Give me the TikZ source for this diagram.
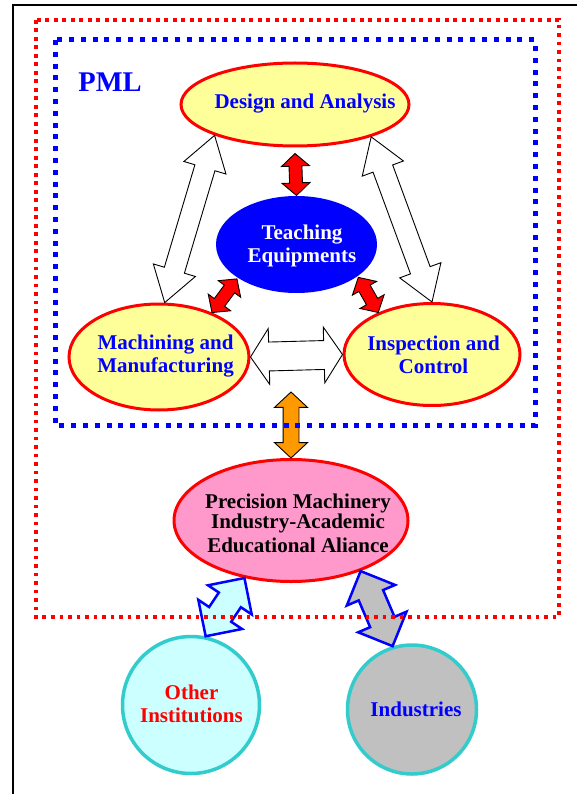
\documentclass[tikz,border=0pt]{standalone}
\usepackage{fontspec}
\setmainfont{Liberation Serif}
\usetikzlibrary{shapes.geometric,shapes.arrows,calc}
\definecolor{lyel}{HTML}{FFFF99}
\definecolor{pinkf}{HTML}{FF99CC}
\definecolor{lcyan}{HTML}{CCFFFF}
\definecolor{turq}{HTML}{33CCCC}
\definecolor{grayf}{HTML}{C0C0C0}
\definecolor{orangef}{HTML}{FF9900}
\definecolor{tblue}{HTML}{0000FF}
\tikzset{
  ell/.style={ellipse, draw=red, line width=3pt, fill=lyel, inner sep=0pt},
  circ/.style={circle, draw=turq, line width=3.5pt, inner sep=0pt},
  lbl/.style={font=\bfseries\fontsize{21}{22.5}\selectfont, align=center, inner sep=0pt, text=tblue},
  darr/.style={double arrow, draw=black, line width=0.9pt, inner xsep=0pt, anchor=center},
  redarr/.style={darr, fill=red, inner ysep=6pt, double arrow head extend=7.5pt, double arrow tip angle=96},
  whitearr/.style={darr, fill=white, inner ysep=10pt, double arrow head extend=11.5pt, double arrow tip angle=66},
  harr/.style={darr, fill=white, inner ysep=14pt, double arrow head extend=13.5pt, double arrow tip angle=113},
  orarr/.style={darr, fill=orangef, inner ysep=7.5pt, double arrow head extend=8.5pt, double arrow tip angle=94},
  botarr/.style={darr, draw=blue, line width=2.5pt, inner ysep=12pt, double arrow head extend=13pt, double arrow tip angle=90},
  reddots/.style={draw=red, line width=3.8pt, dash pattern=on 3.8pt off 4.7pt},
  bluedots/.style={draw=blue, line width=5pt, dash pattern=on 5pt off 6.8pt},
}
\newcommand\dblarr[4]{%
  \path let \p1=(#3), \p2=(#4), \n1={atan2(\y2-\y1,\x2-\x1)}, \n2={veclen(\x2-\x1,\y2-\y1)} in
    node[#2, rotate=\n1, minimum height=\n2] (#1) at ($(\p1)!0.5!(\p2)$) {};}
\begin{document}
\begin{tikzpicture}[x=1pt,y=-1pt]
\useasboundingbox (0,0) rectangle (577,794);
\fill[white] (0,0) rectangle (577,794);
\begin{scope}
\clip (0,0) rectangle (577,794);
\draw[line width=1.8pt] (13,5) rectangle (600,820);
\end{scope}

% nodes
\node[ell, minimum width=228pt, minimum height=83pt] (des) at (295,104.5) {};
\node[ell, draw=none, fill=blue, minimum width=161pt, minimum height=97pt] (te) at (296.5,244.5) {};
\node[ell, minimum width=180pt, minimum height=106pt] (mach) at (159,357) {};
\node[ell, minimum width=176pt, minimum height=102pt] (insp) at (432,354.5) {};
\node[ell, fill=pinkf, minimum width=234pt, minimum height=122pt] (prec) at (291,520.5) {};
\node[circ, fill=lcyan, minimum size=137pt] (oth) at (191,705) {};
\node[circ, fill=grayf, minimum size=129pt] (ind) at (412,709.5) {};

% labels
\node[lbl, font=\bfseries\fontsize{28.5}{30}\selectfont] (pml) at (110,82) {PML};
\node[lbl] (desT) at (305,104) {Design and Analysis};
\node[lbl, text=white] (teT) at (302,246) {Teaching\\Equipments};
\node[lbl] (machT) at (165.5,356) {Machining and\\Manufacturing};
\node[lbl] (inspT) at (433.5,355) {Inspection and\\Control};
\node[lbl, text=black, font=\bfseries\fontsize{21}{20.5}\selectfont] (precT) at (298,523) {Precision Machinery\\Industry-Academic\\[3pt]Educational Aliance};
\node[lbl, text=red] (othT) at (191.5,704) {Other\\Institutions};
\node[lbl] (indT) at (416,709) {Industries};

\coordinate (pmlb) at (291,392);

% arrows
\dblarr{a1}{redarr}{$(des.south)+(0,6)$}{$(te.north)+(0,1)$}
\dblarr{a2}{redarr}{mach.40}{te.210}
\dblarr{a3}{redarr}{te.-28}{insp.142}
\dblarr{a4}{whitearr}{des.201}{mach.84}
\dblarr{a5}{whitearr}{des.-23}{insp.90}
\dblarr{a6}{harr}{mach.east}{insp.west}
\dblarr{a7}{orarr}{pmlb}{prec.north}
\dblarr{a8}{botarr, fill=lcyan}{prec.231}{oth.78}
\dblarr{a9}{botarr, fill=grayf}{prec.-36}{ind.107}

% frames
\draw[reddots] (36,20) rectangle (559,617);
\draw[bluedots] (55,40) rectangle (535,425);
\end{tikzpicture}
\end{document}
